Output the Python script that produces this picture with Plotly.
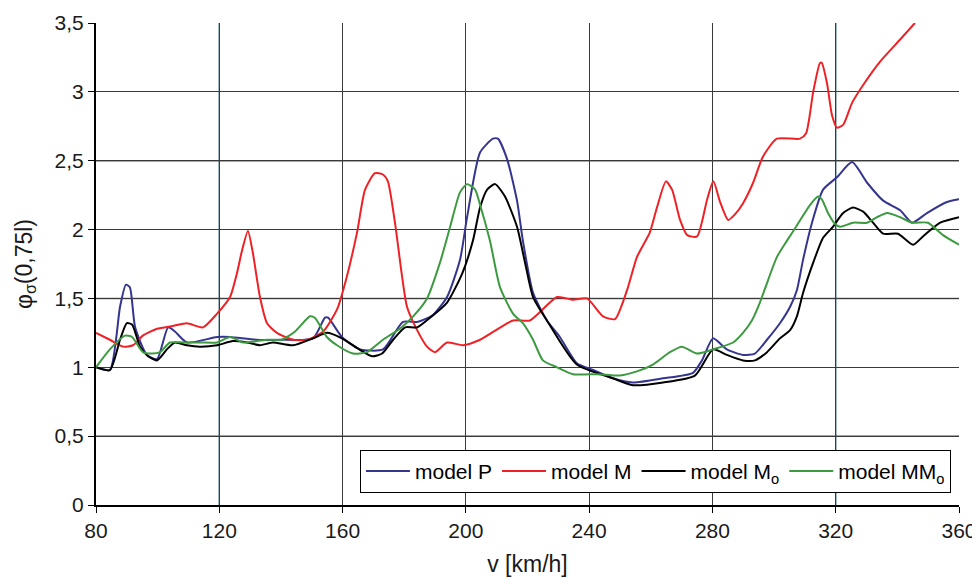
import plotly.graph_objects as go

# ---- data ----
p_x = [80, 84.5, 87.8, 89.7, 91, 92.7, 96.5, 99.8, 103.4, 105.6, 109.5, 119.3, 123.5, 132, 139.7, 150.4,
       154.3, 155.3, 159.8, 165.7, 173.1, 179.6, 184.5, 189.3, 193.9, 198.1, 200.4, 204.6, 208.8, 210.4,
       213.4, 216.6, 218.5, 221.8, 226.3, 230.5, 236, 241.3, 247.7, 254.2, 264, 273.7, 276.6, 280.2,
       284.7, 289.9, 293.8, 297.7, 301.9, 305.2, 307.4, 309.4, 312.3, 315.9, 320.4, 325.3, 330.2,
       335.4, 340.9, 344.8, 349.6, 356.1, 360]
p_y = [1.0, 0.98, 1.44, 1.60, 1.58, 1.29, 1.09, 1.06, 1.29, 1.26, 1.18, 1.22, 1.22, 1.20, 1.20, 1.21,
       1.36, 1.36, 1.22, 1.13, 1.13, 1.33, 1.33, 1.38, 1.51, 1.78, 2.09, 2.56, 2.66, 2.66,
       2.51, 2.21, 1.92, 1.54, 1.34, 1.22, 1.03, 0.98, 0.92, 0.89, 0.92, 0.96, 1.05, 1.21,
       1.13, 1.09, 1.10, 1.20, 1.32, 1.44, 1.56, 1.78, 2.05, 2.29, 2.38, 2.49, 2.34,
       2.21, 2.14, 2.05, 2.12, 2.20, 2.22]

m_x = [80, 84.5, 88.8, 92, 95.2, 99.8, 105, 109.5, 114.7, 119.3, 123.5, 125.7, 127.4, 129.3, 130.9,
       133.2, 135.5, 138.7, 143.9, 148.5, 153.7, 158.2, 161.4, 164.7, 167.3, 170.5, 173.1, 174.7,
       177, 179.3, 180.9, 184.2, 187.4, 190, 193.9, 199.1, 204.6, 215.3, 220.8, 229.6, 234.8,
       239.3, 244.5, 248.4, 252.3, 255.5, 259.7, 262, 264.9, 266.9, 269.5, 271.8, 275, 278.3,
       280.3, 282.5, 285.1, 287.3, 289.9, 293.2, 296.4, 300.9, 308.4, 310.4, 312.7, 314.9, 315.5,
       317.2, 318.8, 320.4, 322.4, 325.3, 328.9, 334.4, 340.9, 345.7]
m_y = [1.25, 1.20, 1.15, 1.16, 1.23, 1.28, 1.30, 1.32, 1.29, 1.39, 1.51, 1.68, 1.85, 1.99, 1.83,
       1.51, 1.32, 1.25, 1.20, 1.20, 1.26, 1.42, 1.66, 1.98, 2.29, 2.41, 2.40, 2.35,
       2.05, 1.66, 1.44, 1.27, 1.15, 1.11, 1.18, 1.16, 1.20, 1.34, 1.34, 1.51, 1.49,
       1.50, 1.37, 1.35, 1.56, 1.80, 1.98, 2.16, 2.35, 2.29, 2.07, 1.96, 1.95, 2.22,
       2.35, 2.20, 2.07, 2.11, 2.19, 2.34, 2.53, 2.66, 2.66, 2.70, 3.00, 3.21, 3.21,
       3.06, 2.83, 2.74, 2.76, 2.92, 3.05, 3.22, 3.38, 3.50]

mo_x = [80, 84.5, 87.8, 90, 91.7, 94.3, 96.9, 99.8, 103, 105.6, 109.5, 113.7, 119.3, 124.4, 129,
        133.2, 137.4, 143.9, 150.4, 154.9, 159.8, 164.7, 169.6, 172.8, 176.4, 180.3, 184.2, 188.4,
        193.9, 198.8, 202.3, 204.6, 206.9, 209.5, 212.7, 216.6, 219.2, 221.8, 226.3, 236, 247.7,
        254.2, 264, 274.3, 280.2, 284.7, 289.9, 293.8, 297.7, 301.9, 305.2, 307.4, 309.4, 312.7,
        315.9, 319.1, 322.4, 325.6, 328.9, 332.1, 335.4, 340.2, 345.1, 348.3, 353.9, 360]
mo_y = [1.0, 0.98, 1.20, 1.32, 1.31, 1.15, 1.08, 1.05, 1.13, 1.18, 1.16, 1.15, 1.16, 1.19, 1.18,
        1.16, 1.18, 1.16, 1.21, 1.25, 1.21, 1.14, 1.08, 1.10, 1.20, 1.29, 1.29, 1.36,
        1.47, 1.68, 1.92, 2.16, 2.29, 2.33, 2.24, 2.02, 1.76, 1.51, 1.34, 1.02, 0.92,
        0.87, 0.89, 0.94, 1.13, 1.09, 1.05, 1.05, 1.11, 1.21, 1.27, 1.37, 1.54, 1.76,
        1.94, 2.02, 2.12, 2.16, 2.13, 2.05, 1.97, 1.97, 1.89, 1.95, 2.05, 2.09]

mmo_x = [80, 84.5, 89.4, 91.7, 95.2, 98.2, 100.8, 104, 108.2, 113.7, 119.3, 123.5, 127.7, 132.2,
         135.5, 140.2, 144.6, 149.4, 151, 154.9, 158.2, 163.4, 167.9, 173.1, 178.6, 182.9, 187.4,
         191.6, 194.9, 198.1, 200.4, 203, 204.6, 207.8, 211.1, 215.3, 218.5, 221.8, 225, 229.6,
         234.8, 242.6, 250, 255.5, 260.7, 266.2, 270.1, 275, 280.2, 286.7, 289.9, 292.8, 295.4,
         298, 300.9, 304.2, 307.4, 311.7, 314.3, 315.5, 317.5, 319.8, 321.4, 325.6, 330.2, 333.4,
         336.7, 340.9, 344.8, 349.9, 354.8, 360]
mmo_y = [1.0, 1.13, 1.23, 1.22, 1.11, 1.10, 1.11, 1.18, 1.18, 1.18, 1.18, 1.22, 1.18, 1.19,
         1.20, 1.20, 1.26, 1.37, 1.36, 1.22, 1.16, 1.10, 1.11, 1.20, 1.28, 1.37, 1.50,
         1.76, 2.02, 2.27, 2.33, 2.29, 2.18, 1.92, 1.58, 1.39, 1.32, 1.20, 1.05, 1.00,
         0.95, 0.95, 0.94, 0.97, 1.02, 1.11, 1.15, 1.10, 1.13, 1.18, 1.25, 1.34, 1.47,
         1.63, 1.80, 1.92, 2.03, 2.18, 2.24, 2.22, 2.12, 2.04, 2.02, 2.05, 2.05, 2.09,
         2.12, 2.09, 2.05, 2.05, 1.96, 1.89]

series_names = ["model P", "model M", "model M<sub>o</sub>", "model MM<sub>o</sub>"]
x_ticks = [80, 120, 160, 200, 240, 280, 320, 360]
y_ticks = [0, 0.5, 1, 1.5, 2, 2.5, 3, 3.5]
y_tick_labels = ["0", "0,5", "1", "1,5", "2", "2,5", "3", "3,5"]

colors = ["#35358f", "#ee2226", "#000000", "#3d9a40"]

fig = go.Figure()
for name, xs, ys, c in zip(series_names, [p_x, m_x, mo_x, mmo_x], [p_y, m_y, mo_y, mmo_y], colors):
    fig.add_trace(go.Scatter(x=xs, y=ys, name=name, mode="lines",
                             line=dict(color=c, width=2, shape="spline", smoothing=0.6),
                             cliponaxis=True))

# coloured grid lines (the original figure has a few tinted grid lines)
teal = "#245a6c"
green = "#3f7f48"
h_colors = {0.5: teal, 1.5: green, 2.5: teal}
v_colors = {120: teal, 320: teal}
for yv, c in h_colors.items():
    fig.add_shape(type="line", xref="paper", x0=0, x1=1, yref="y", y0=yv, y1=yv,
                  line=dict(color=c, width=1.4), layer="between")
for xv, c in v_colors.items():
    fig.add_shape(type="line", yref="paper", y0=0, y1=1, xref="x", x0=xv, x1=xv,
                  line=dict(color=c, width=1.4), layer="between")

font = "Liberation Sans, Arial, sans-serif"
# the page adds an 8px body margin, so the figure is shrunk and margins reduced by 8px
fig.update_layout(
    width=972, height=570,
    margin=dict(l=88, r=21, t=15, b=73, autoexpand=False),
    paper_bgcolor="white", plot_bgcolor="white",
    font=dict(family=font, size=21, color="#1a1a1a"),
    separators=", ",
    showlegend=True,
    legend=dict(orientation="h", x=0.9907, xanchor="right", y=0.025, yanchor="bottom",
                bgcolor="white", bordercolor="#000000", borderwidth=1,
                font=dict(size=21, color="#000000"), itemwidth=44, tracegroupgap=0),
)
fig.update_xaxes(range=[80, 360], tickvals=x_ticks, ticktext=[str(v) for v in x_ticks],
                 showgrid=True, gridcolor="#3a3a3a", gridwidth=1.4,
                 showline=True, linecolor="#000000", linewidth=1.5,
                 ticks="outside", ticklen=6, tickcolor="#000000", zeroline=False,
                 automargin=False,
                 title=dict(text="v [km/h]", standoff=15, font=dict(size=23)))
fig.update_yaxes(range=[0, 3.5], tickvals=y_ticks, ticktext=y_tick_labels,
                 showgrid=True, gridcolor="#3a3a3a", gridwidth=1.4,
                 showline=True, linecolor="#000000", linewidth=2,
                 ticks="outside", ticklen=6, tickcolor="#000000", zeroline=False,
                 automargin=False,
                 title=dict(text="φ<sub>σ</sub>(0,75l)", standoff=16, font=dict(size=23)))

fig.write_html("out.html")
